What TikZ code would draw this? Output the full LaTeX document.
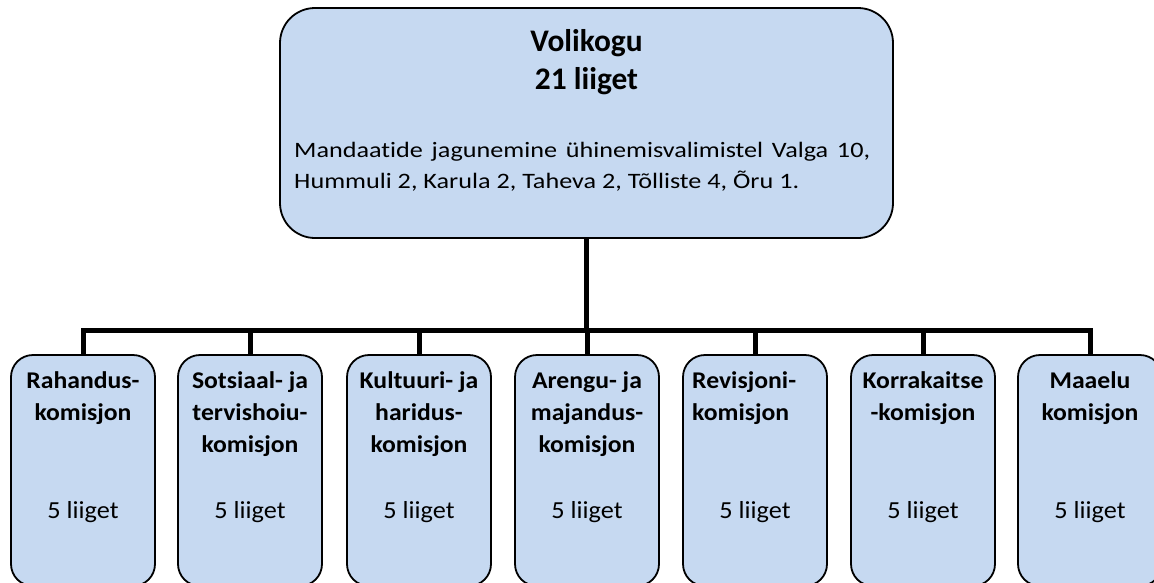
\documentclass[tikz,border=0pt]{standalone}
\usepackage{fontspec}
\setmainfont{Carlito}[Ligatures={NoCommon}]
\newfontfamily\bodyfont[FakeStretch=1.19,Ligatures={NoCommon}]{Carlito}
\newfontfamily\boxfont[FakeStretch=1.07,Ligatures={NoCommon}]{Carlito}
\definecolor{boxfill}{HTML}{C6D9F1}
\pgfdeclarelayer{background}
\pgfsetlayers{background,main}
\tikzset{
  orgbox/.style={draw=black, line width=1.8pt, fill=boxfill, rectangle, inner sep=0pt},
  topbox/.style={orgbox, minimum width=613pt, minimum height=230pt, rounded corners=35pt},
  kombox/.style={orgbox, minimum width=144pt, minimum height=231pt, rounded corners=22pt},
  conn/.style={draw=black, line width=5pt},
  titletext/.style={inner sep=0pt, anchor=base, font=\fontsize{31.4}{38}\selectfont\bfseries},
  bodytext/.style={inner sep=0pt, anchor=base west, font=\bodyfont\fontsize{22}{26}\selectfont},
  komtext/.style={inner sep=0pt, anchor=base, font=\boxfont\fontsize{24}{30}\selectfont\bfseries},
  komtextl/.style={komtext, anchor=base west},
  numtext/.style={inner sep=0pt, anchor=base, font=\boxfont\fontsize{24.5}{30}\selectfont}
}
\begin{document}
\begin{tikzpicture}[x=1pt,y=-1pt]
\useasboundingbox (0,0) rectangle (1154,582);
\clip (0,0) rectangle (1154,582);
% top box
\node[topbox] (vol) at (586.5,123) {};
\node[titletext] (volt1) at (586.5,51) {Volikogu};
\node[titletext] (volt2) at (586.5,89) {21 liiget};
\node[bodytext] (volb1) at (294,157) {\makebox[576pt][s]{Mandaatide jagunemine ühinemisvalimistel Valga 10,}};
\node[bodytext] (volb2) at (294,188) {Hummuli 2, Karula 2, Taheva 2, Tõlliste 4, Õru 1.};
% committee boxes
\node[kombox] (k1) at (83,470.5) {};
\node[kombox] (k2) at (250,470.5) {};
\node[kombox] (k3) at (419,470.5) {};
\node[kombox] (k4) at (587,470.5) {};
\node[kombox] (k5) at (755,470.5) {};
\node[kombox] (k6) at (923,470.5) {};
\node[kombox] (k7) at (1090,470.5) {};
\coordinate (bar) at (0,330);
\begin{pgfonlayer}{background}
\draw[conn] (vol.south) -- (vol.south |- bar);
\draw[conn, line join=miter] (k1.north) -- (k1.north |- bar) -- (k7.north |- bar) -- (k7.north);
\foreach \k in {k2,k3,k4,k5,k6}{
  \draw[conn] (\k.north |- bar) -- (\k.north);
}
\end{pgfonlayer}
% committee texts
\node[komtext] (k1a) at (83,388) {Rahandus-};
\node[komtext] (k1b) at (83,420) {komisjon};
\node[numtext] (k1n) at (83,518) {5 liiget};
\node[komtext] (k2a) at (250,388) {Sotsiaal- ja};
\node[komtext] (k2b) at (250,420) {tervishoiu-};
\node[komtext] (k2c) at (250,452) {komisjon};
\node[numtext] (k2n) at (250,518) {5 liiget};
\node[komtext] (k3a) at (419,388) {Kultuuri- ja};
\node[komtext] (k3b) at (419,420) {haridus-};
\node[komtext] (k3c) at (419,452) {komisjon};
\node[numtext] (k3n) at (419,518) {5 liiget};
\node[komtext] (k4a) at (587,388) {Arengu- ja};
\node[komtext] (k4b) at (587,420) {majandus-};
\node[komtext] (k4c) at (587,452) {komisjon};
\node[numtext] (k4n) at (587,518) {5 liiget};
\node[komtextl] (k5a) at (692,388) {Revisjoni-};
\node[komtextl] (k5b) at (692,420) {komisjon};
\node[numtext] (k5n) at (755,518) {5 liiget};
\node[komtext] (k6a) at (923,388) {Korrakaitse};
\node[komtext] (k6b) at (923,420) {-komisjon};
\node[numtext] (k6n) at (923,518) {5 liiget};
\node[komtext] (k7a) at (1090,388) {Maaelu};
\node[komtext] (k7b) at (1090,420) {komisjon};
\node[numtext] (k7n) at (1090,518) {5 liiget};
\end{tikzpicture}
\end{document}
